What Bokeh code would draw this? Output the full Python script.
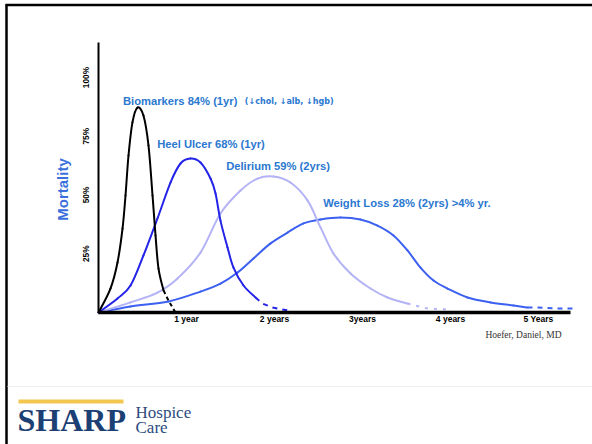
import math
from bokeh.plotting import figure
from bokeh.models import Range1d, FixedTicker
from bokeh.core.properties import value
from bokeh.embed import file_html
from bokeh.resources import INLINE

# ---- data (years, mortality %) ----
biomarkers_x = [0.0, 0.136, 0.216, 0.273, 0.307, 0.341, 0.386, 0.443, 0.511, 0.568, 0.614, 0.648, 0.682, 0.739]
biomarkers_y = [0.0, 10.2, 21.3, 35.7, 49.8, 66.8, 80.9, 87.2, 83.8, 71.1, 49.8, 32.8, 18.7, 9.4]
biomarkers_tail_x = [0.739, 0.795, 0.875]
biomarkers_tail_y = [9.4, 5.1, 0.0]

heel_x = [0.0, 0.216, 0.364, 0.511, 0.670, 0.818, 0.932, 1.045, 1.159, 1.273, 1.330, 1.386, 1.466, 1.534, 1.648, 1.784]
heel_y = [0.0, 6.0, 11.5, 24.3, 40.0, 55.3, 63.4, 65.5, 63.8, 57.0, 50.6, 39.1, 27.7, 19.1, 11.5, 6.4]
heel_tail_x = [1.784, 1.864, 1.977, 2.148]
heel_tail_y = [6.4, 3.8, 2.1, 0.9]

delirium_x = [0.0, 0.364, 0.670, 0.898, 1.159, 1.386, 1.614, 1.807, 1.989, 2.182, 2.375, 2.523, 2.670, 2.864, 3.091, 3.284, 3.511]
delirium_y = [0.0, 4.3, 8.5, 14.5, 25.5, 42.1, 51.9, 57.0, 57.9, 55.3, 47.7, 36.2, 25.1, 16.6, 10.2, 6.4, 3.8]
delirium_tail_x = [3.511, 3.739, 3.966]
delirium_tail_y = [3.8, 1.7, 1.3]

weight_x = [0.0, 0.364, 0.795, 1.159, 1.386, 1.580, 1.761, 1.955, 2.148, 2.330, 2.523, 2.750, 2.977, 3.170,
            3.352, 3.511, 3.659, 3.807, 3.966, 4.193, 4.455, 4.716, 4.875]
weight_y = [0.0, 2.6, 4.7, 8.9, 12.3, 17.0, 23.0, 29.4, 34.0, 37.9, 39.6, 40.4, 39.6, 37.0,
            32.8, 26.4, 19.1, 13.6, 10.2, 6.4, 4.3, 3.0, 2.1]
weight_tail_x = [4.875, 4.989, 5.216, 5.398]
weight_tail_y = [2.1, 2.1, 1.7, 1.7]

series_labels = ["Biomarkers 84% (1yr)", "Heel Ulcer 68% (1yr)", "Delirium 59% (2yrs)", "Weight Loss 28% (2yrs) >4% yr."]
label_x = [0.278, 0.667, 1.451, 2.553]
label_y = [90.2, 71.9, 62.3, 46.8]
note_text = "(\u2193chol, \u2193alb, \u2193hgb)"
note_x = 1.663
note_y = 90.0

x_ticks = [1, 2, 3, 4, 5]
x_tick_labels = ["1 year", "2 years", "3years", "4 years", "5 Years"]
y_ticks = [25, 50, 75, 100]
y_tick_labels = ["25%", "50%", "75%", "100%"]
y_title = "Mortality"

# ---- canvas mapping (pixel -> data) ----
W, H = 592, 444
X0, PXY = 98.0, 88.0      # origin pixel x, pixels per year
Y0, PXP = 312.0, 2.35     # origin pixel y, pixels per percent


def sx(px):
    return (px - X0) / PXY


def sy(py):
    return (Y0 - py) / PXP


def smooth_segments(xs, ys):
    """Cubic Bezier segments passing through every read point (Catmull-Rom tangents)."""
    n = len(xs)
    seg = {k: [] for k in ("x0", "y0", "x1", "y1", "cx0", "cy0", "cx1", "cy1")}
    for i in range(n - 1):
        im = i - 1 if i > 0 else i
        ip = i + 2 if i + 2 < n else i + 1
        seg["x0"].append(xs[i]); seg["y0"].append(ys[i])
        seg["x1"].append(xs[i + 1]); seg["y1"].append(ys[i + 1])
        seg["cx0"].append(xs[i] + (xs[i + 1] - xs[im]) / 6.0)
        seg["cy0"].append(ys[i] + (ys[i + 1] - ys[im]) / 6.0)
        seg["cx1"].append(xs[i + 1] - (xs[ip] - xs[i]) / 6.0)
        seg["cy1"].append(ys[i + 1] - (ys[ip] - ys[i]) / 6.0)
    return seg


p = figure(width=W, height=H, output_backend="svg", toolbar_location=None,
           x_range=Range1d(sx(0), sx(W)), y_range=Range1d(sy(H), sy(0)),
           min_border=0)
p.outline_line_color = None
p.background_fill_color = "white"
p.border_fill_color = "white"
p.grid.visible = False

# axes, placed at the origin
xa = p.xaxis[0]
xa.fixed_location = 0
xa.bounds = (0, sx(570))
xa.ticker = FixedTicker(ticks=x_ticks)
xa.major_label_overrides = {t: l for t, l in zip(x_ticks, x_tick_labels)}
xa.axis_line_width = 3.5
xa.axis_line_color = "black"
xa.major_tick_line_color = None
xa.minor_tick_line_color = None
xa.major_tick_out = 0
xa.major_tick_in = 0
xa.minor_tick_out = 0
xa.major_label_text_font = "Liberation Sans"
xa.major_label_text_font_style = "bold"
xa.major_label_text_font_size = "8.5px"
xa.major_label_text_color = "black"
xa.major_label_standoff = 1

ya = p.yaxis[0]
ya.fixed_location = 0
ya.bounds = (0, sy(42))
ya.ticker = FixedTicker(ticks=y_ticks)
ya.major_label_overrides = {t: l for t, l in zip(y_ticks, y_tick_labels)}
ya.major_label_orientation = "vertical"
ya.axis_line_width = 2
ya.axis_line_color = "black"
ya.major_tick_line_color = None
ya.minor_tick_line_color = None
ya.major_tick_out = 0
ya.major_tick_in = 0
ya.minor_tick_out = 0
ya.major_label_text_font = "Liberation Sans"
ya.major_label_text_font_style = "bold"
ya.major_label_text_font_size = "8.3px"
ya.major_label_text_color = "black"
ya.major_label_standoff = 8

# y title (rotated)
p.text(x=[sx(62)], y=[sy(189)], text=[y_title], angle=math.pi / 2, text_font=value("Liberation Sans"),
       text_font_style="bold", text_font_size="15px", text_color="#3b6fdb",
       text_baseline="middle", text_align="center")

# curves
series = [
    (weight_x, weight_y, weight_tail_x, weight_tail_y, "#3c60f0", "5 5"),
    (delirium_x, delirium_y, delirium_tail_x, delirium_tail_y, "#b3b3f5", "3 6"),
    (heel_x, heel_y, heel_tail_x, heel_tail_y, "#2424e8", "5 5"),
    (biomarkers_x, biomarkers_y, biomarkers_tail_x, biomarkers_tail_y, "black", "4 3"),
]
for xs, ys, tx, ty, color, dash in series:
    p.bezier(line_color=color, line_width=2, line_cap="round", **smooth_segments(xs, ys))
    p.line(tx, ty, line_color=color, line_width=2, line_dash=dash)

# series labels
lab_color = "#2a78d0"
p.text(x=label_x, y=label_y, text=series_labels, text_font=value("Liberation Sans"),
       text_font_style="bold", text_font_size="11.2px", text_color=lab_color,
       text_baseline="middle", text_align="left")
p.text(x=[note_x], y=[note_y], text=[note_text], text_font=value("DejaVu Sans"),
       text_font_style="bold", text_font_size="8px", text_color=lab_color,
       text_baseline="middle", text_align="left")

# credit
p.text(x=[sx(561)], y=[sy(334)], text=["Hoefer, Daniel, MD"], text_font=value("Liberation Serif"),
       text_font_size="9.5px", text_color="#333333", text_baseline="middle", text_align="right")

# slide frame
p.line([sx(5), sx(W)], [sy(4.5), sy(4.5)], line_color="black", line_width=2.5)
p.line([sx(6), sx(6)], [sy(4), sy(H)], line_color="black", line_width=2.5)
p.line([sx(7), sx(W)], [sy(386), sy(386)], line_color="#eeeeee", line_width=1)

# logo
p.quad(left=[sx(18)], right=[sx(123)], top=[sy(399)], bottom=[sy(403)], fill_color="#f3c74f", line_color=None)
p.text(x=[sx(17)], y=[sy(419)], text=["SHARP"], text_font=value("Liberation Serif"),
       text_font_style="bold", text_font_size="32px", text_color="#1c3f74",
       text_baseline="middle", text_align="left")
p.text(x=[sx(135)], y=[sy(412)], text=["Hospice"], text_font=value("Liberation Serif"),
       text_font_size="17px", text_color="#2c4c80", text_baseline="middle", text_align="left")
p.text(x=[sx(135)], y=[sy(427)], text=["Care"], text_font=value("Liberation Serif"),
       text_font_size="17px", text_color="#2c4c80", text_baseline="middle", text_align="left")

open("out.html", "w").write(file_html(p, INLINE))
